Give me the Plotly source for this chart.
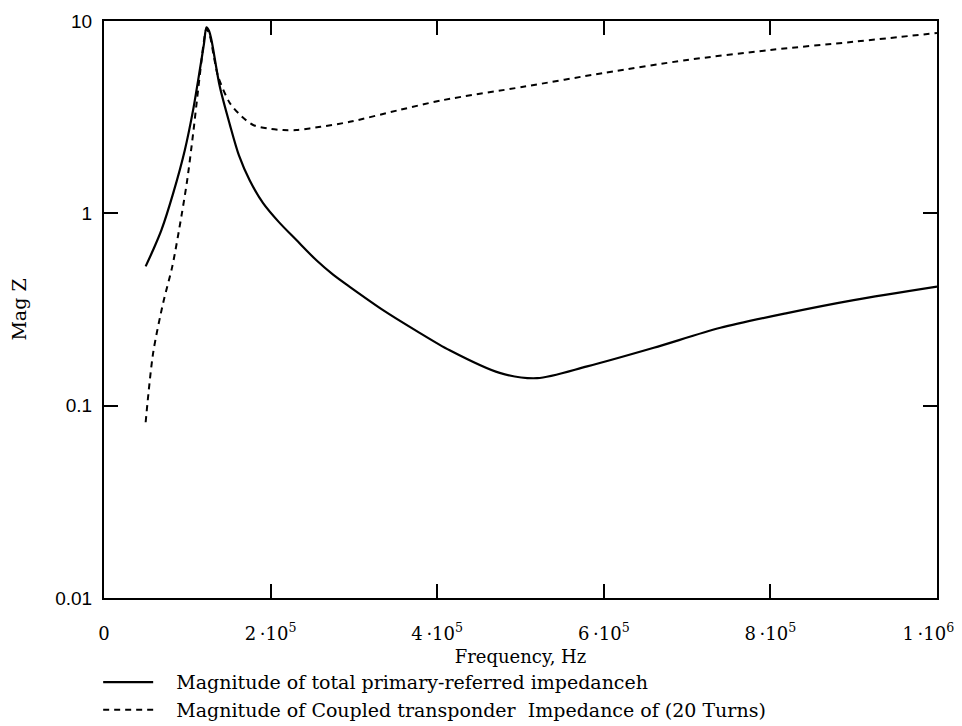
import plotly.graph_objects as go

# frequency points (Hz) and magnitudes
freq_total = [50e3, 60e3, 69e3, 83e3, 97e3, 107e3, 115e3, 120e3, 123e3, 126e3,
              129e3, 139e3, 151e3, 162e3, 175e3, 191e3, 210e3, 231e3, 255e3,
              275e3, 295e3, 335e3, 375e3, 415e3, 475e3, 520e3, 580e3, 660e3,
              740e3, 820e3, 900e3, 1000e3]
mag_total = [0.53, 0.66, 0.82, 1.27, 2.13, 3.45, 5.56, 7.6, 9.27, 8.9,
             7.96, 4.56, 2.9, 2.0, 1.48, 1.13, 0.90, 0.726, 0.57,
             0.48, 0.415, 0.314, 0.245, 0.194, 0.148, 0.139, 0.160, 0.2,
             0.254, 0.303, 0.354, 0.416]

freq_coupled = [50e3, 59e3, 71e3, 82e3, 93e3, 100e3, 107e3, 113e3, 117e3, 120e3,
                123e3, 127e3, 132e3, 137e3, 151e3, 165e3, 179e3, 197e3, 215e3,
                231e3, 260e3, 295e3, 355e3, 407e3, 505e3, 600e3, 700e3, 800e3,
                900e3, 1000e3]
mag_coupled = [0.082, 0.188, 0.342, 0.53, 0.97, 1.5, 2.6, 4.4, 6.2, 7.9,
               9.1, 8.4, 6.5, 5.14, 3.75, 3.2, 2.88, 2.76, 2.71,
               2.71, 2.82, 2.99, 3.45, 3.88, 4.56, 5.37, 6.27, 7.07,
               7.80, 8.66]

x_ticks = [0, 2e5, 4e5, 6e5, 8e5, 1e6]
# trailing spaces on the last label pull it left so it stays on the page
x_labels = ["0", "2\u2009·10<sup>5</sup>", "4\u2009·10<sup>5</sup>", "6\u2009·10<sup>5</sup>",
            "8\u2009·10<sup>5</sup>", "1\u2009·10<sup>6</sup>\u00a0\u00a0\u00a0"]
y_ticks = [0.01, 0.1, 1, 10]
y_labels = ["0.01", "0.1", "1", "10"]

serif = "DejaVu Serif"
pad = "\u00a0\u00a0\u00a0"  # gap between legend sample and text

fig = go.Figure()
fig.add_trace(go.Scatter(x=freq_total, y=mag_total, mode="lines",
                         name=pad + "Magnitude of total primary-referred impedanceh",
                         line=dict(color="black", width=2.2, shape="spline", smoothing=0.8)))
fig.add_trace(go.Scatter(x=freq_coupled, y=mag_coupled, mode="lines",
                         name=pad + "Magnitude of Coupled transponder  Impedance of (20 Turns)",
                         line=dict(color="black", width=2, dash="6px,5px",
                                   shape="spline", smoothing=0.8)))

axis_common = dict(showline=True, linecolor="black", linewidth=2, mirror="ticks",
                   ticks="inside", ticklen=14, tickwidth=2, tickcolor="black",
                   showgrid=False, zeroline=False, automargin=False)

# page body has an 8px margin, so margins are shifted to keep the frame in place
fig.update_layout(
    width=962, height=726,
    margin=dict(l=96, r=33, t=13, b=136, autoexpand=False),
    plot_bgcolor="white", paper_bgcolor="white",
    font=dict(family=serif, color="black", size=17),
    xaxis=dict(range=[0, 1e6], tickvals=x_ticks, ticktext=x_labels,
               tickfont=dict(family=serif, size=18), ticklabelstandoff=18,
               ticklabeloverflow="allow",
               title=dict(text="Frequency, Hz", font=dict(family=serif, size=18),
                          standoff=8),
               **axis_common),
    yaxis=dict(type="log", range=[-2, 1], tickvals=y_ticks, ticktext=y_labels,
               tickfont=dict(family="Liberation Sans", size=19), ticklabelstandoff=6,
               title=dict(text="Mag Z", font=dict(family=serif, size=19), standoff=26),
               **axis_common),
    showlegend=True,
    legend=dict(x=-0.007, y=-0.113, xanchor="left", yanchor="top",
                font=dict(family=serif, size=19), itemwidth=50,
                tracegroupgap=0, bgcolor="rgba(0,0,0,0)"),
)

fig.write_html("out.html")
